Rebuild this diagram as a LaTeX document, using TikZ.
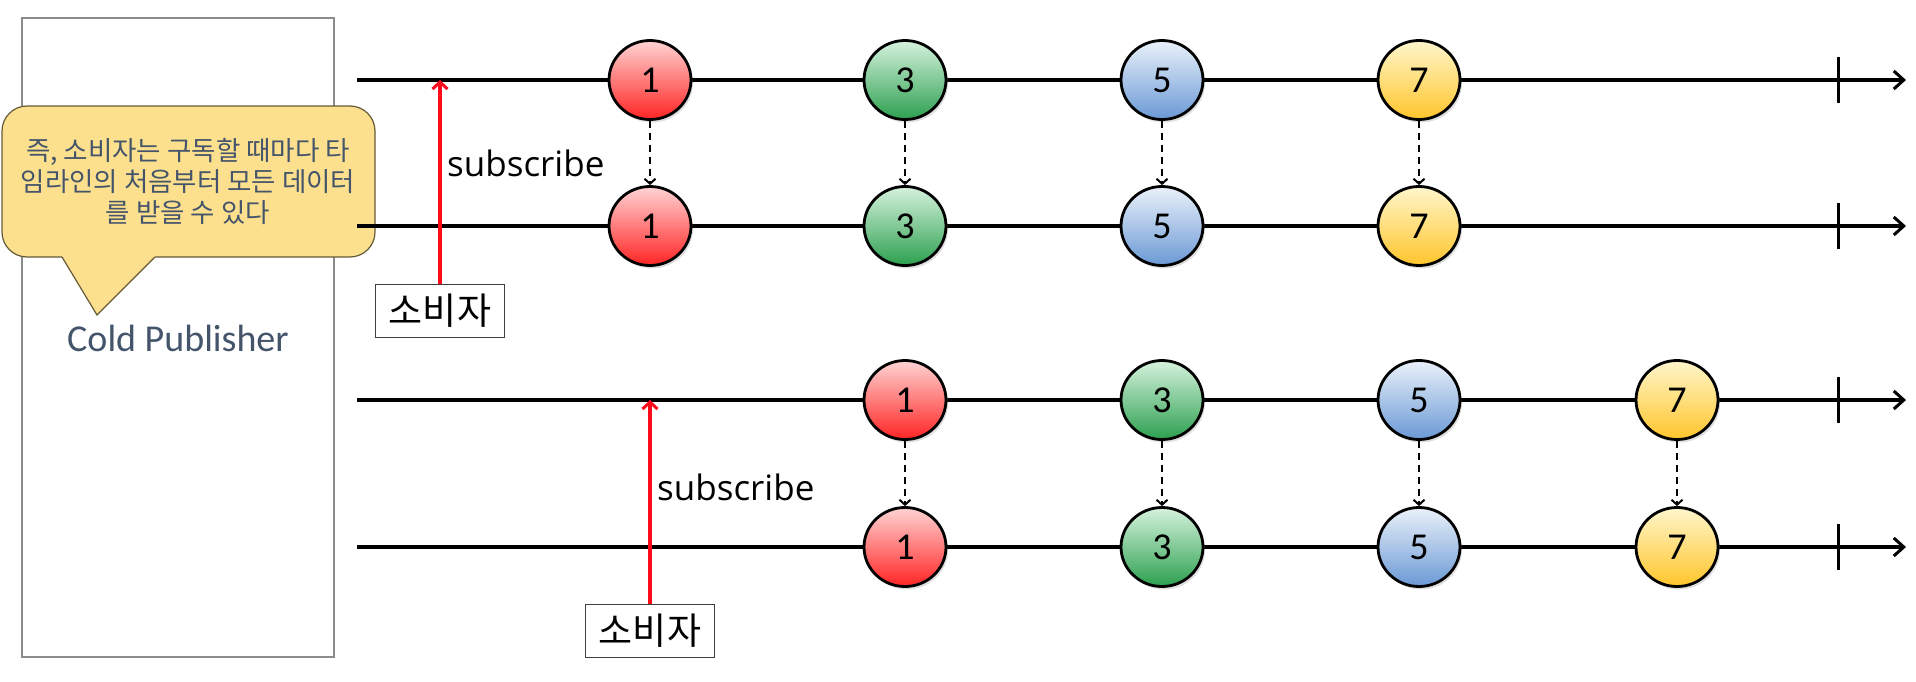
\documentclass[tikz,border=0pt]{standalone}
\usepackage{fontspec}
\newfontfamily\krfont{Noto Sans CJK KR}
\newfontfamily\carl{Carlito}
\newfontfamily\osans{Open Sans}
\usetikzlibrary{shapes.geometric,arrows.meta,shadows}
\definecolor{slate}{HTML}{44546A}
\definecolor{callfill}{HTML}{FCE08E}
\definecolor{boxgray}{HTML}{8C8C8C}
\definecolor{rT}{HTML}{FFD3D3}\definecolor{rM}{HTML}{FF4A4A}\definecolor{rB}{HTML}{FF2424}
\definecolor{gT}{HTML}{D6F2DD}\definecolor{gM}{HTML}{52BF6F}\definecolor{gB}{HTML}{2CA04F}
\definecolor{bT}{HTML}{EAF1FA}\definecolor{bM}{HTML}{92B7E2}\definecolor{bB}{HTML}{6A99D5}
\definecolor{yT}{HTML}{FFF6CC}\definecolor{yM}{HTML}{FFD756}\definecolor{yB}{HTML}{FFC52B}
\definecolor{subred}{HTML}{FF0A1A}
\begin{document}
\begin{tikzpicture}[x=1pt,y=-1pt,
  marble/.style={ellipse, draw=black, line width=2.8pt, minimum width=82pt, minimum height=79pt, inner sep=0pt,
    font=\carl\fontsize{38}{38}\selectfont,
    drop shadow={shadow xshift=2pt, shadow yshift=-3pt, opacity=0.25}},
  mred/.style={marble, top color=rT, middle color=rM, bottom color=rB},
  mgreen/.style={marble, top color=gT, middle color=gM, bottom color=gB},
  mblue/.style={marble, top color=bT, middle color=bM, bottom color=bB},
  myellow/.style={marble, top color=yT, middle color=yM, bottom color=yB},
  axis/.style={line width=3.4pt, -{Straight Barb[length=10pt,width=18pt,line width=3pt]}},
  tickmark/.style={line width=3pt},
  dasharrow/.style={line width=2.2pt, dash pattern=on 7pt off 5pt, -{Straight Barb[length=5pt,width=11pt,line width=2pt]}},
  redarrow/.style={subred, line width=3.2pt, -{Straight Barb[length=7pt,width=15pt,line width=3pt]}},
  userbox/.style={draw=black!75, line width=1.2pt, fill=white, minimum width=129pt, minimum height=53pt, inner sep=0pt,
    font=\krfont\fontsize{37}{37}\selectfont},
  sublabel/.style={font=\osans\fontsize{35}{35}\selectfont, inner sep=0pt},
]
\useasboundingbox (0,0) rectangle (1916,682);

% publisher panel
\draw[boxgray, line width=1.5pt] (22,18) rectangle (334,657);

% callout
\draw[callfill!40!black, line width=1.2pt, fill=callfill, rounded corners=25pt] (2,106) rectangle (375,257);
\fill[callfill] (62,257.8) -- (97,315) -- (155,257.8) -- (155,254) -- (62,254) -- cycle;
\draw[callfill!40!black, line width=1.2pt] (62,257) -- (97,315) -- (155,257);
\node[font=\krfont\fontsize{26.5}{31}\selectfont, text=slate, align=center, inner sep=0pt] (note) at (188,181)
  {즉, 소비자는 구독할 때마다 타\\임라인의 처음부터 모든 데이터\\를 받을 수 있다};
\node[font=\carl\fontsize{38}{38}\selectfont, text=slate, inner sep=0pt] (pub) at (178,338) {Cold Publisher};

% timelines
\foreach \i/\y in {1/80,2/226,3/400,4/547}{
  \coordinate (s\i) at (357,\y);
  \coordinate (e\i) at (1906,\y);
  \coordinate (ta\i) at (1838,\y-23);
  \coordinate (tb\i) at (1838,\y+23);
  \draw[axis] (s\i) -- (e\i);
  \draw[tickmark] (ta\i) -- (tb\i);
}

% marbles row 1 and 2
\node[mred]    (a1) at (650,80) {1};
\node[mgreen]  (a3) at (905,80) {3};
\node[mblue]   (a5) at (1162,80) {5};
\node[myellow] (a7) at (1419,80) {7};
\node[mred]    (b1) at (650,226) {1};
\node[mgreen]  (b3) at (905,226) {3};
\node[mblue]   (b5) at (1162,226) {5};
\node[myellow] (b7) at (1419,226) {7};
% marbles row 3 and 4
\node[mred]    (c1) at (905,400) {1};
\node[mgreen]  (c3) at (1162,400) {3};
\node[mblue]   (c5) at (1419,400) {5};
\node[myellow] (c7) at (1677,400) {7};
\node[mred]    (d1) at (905,547) {1};
\node[mgreen]  (d3) at (1162,547) {3};
\node[mblue]   (d5) at (1419,547) {5};
\node[myellow] (d7) at (1677,547) {7};

\foreach \n in {1,3,5,7}{
  \draw[dasharrow] (a\n.south) -- (b\n.north);
  \draw[dasharrow] (c\n.south) -- (d\n.north);
}

% subscribers
\node[userbox] (u1) at (440,311) {소비자};
\coordinate (p1) at (440,80);
\draw[redarrow] (u1.north) -- (p1);
\node[sublabel, anchor=west] (l1) at (447,163) {subscribe};

\node[userbox] (u2) at (650,631) {소비자};
\coordinate (p2) at (650,400);
\draw[redarrow] (u2.north) -- (p2);
\node[sublabel, anchor=west] (l2) at (657,487) {subscribe};
\end{tikzpicture}
\end{document}
